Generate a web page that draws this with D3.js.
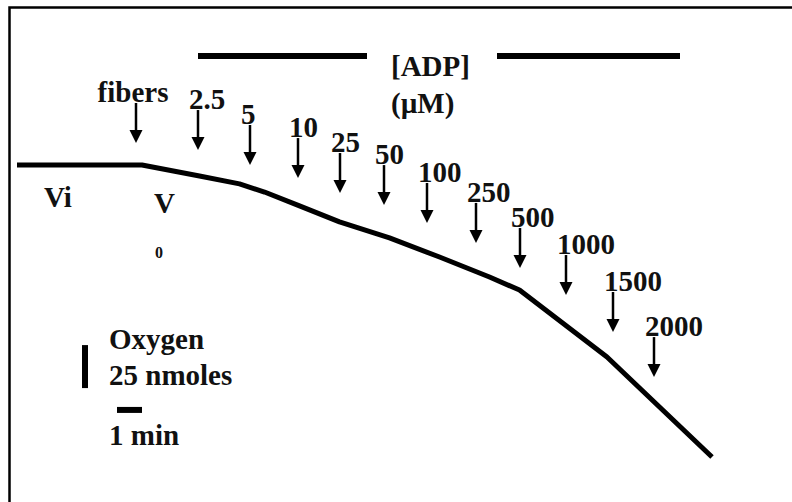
<!DOCTYPE html>
<html>
  <head>
    <meta charset="utf-8">
    <title>Oxygen consumption trace, ADP titration</title>
    <script src="https://d3js.org/d3.v7.min.js"></script>
  </head>
  <body style="margin:0;background:#fff">
<style>
  svg text {
    font-family: "Liberation Serif", "DejaVu Serif", "Times New Roman", Times, serif;
    font-weight: bold;
    fill: #111;
  }
  .trace {
    fill: none;
    stroke: #000;
    stroke-width: 5;
    stroke-linejoin: round;
  }
</style>
<script>

  // oxygen trace: time (min) and oxygen left in chamber (nmoles)
  var traceTime   = [0, 5, 7.3, 8.9, 9.9, 11.3, 12.9, 14.9, 16.9, 18.9, 20.1, 23.6, 27.8];
  var traceOxygen = [250, 250, 243.6, 239, 234.3, 226.2, 216.9, 207.6, 196.5, 184.9, 177.3, 138.4, 80.2];

  // additions: fibers then ADP steps (uM)
  var addLabels = ["fibers", "2.5", "5", "10", "25", "50", "100", "250", "500", "1000", "1500", "2000"];
  var addTime   = [4.76, 7.24, 9.32, 11.24, 12.92, 14.68, 16.4, 18.36, 20.12, 21.96, 23.84, 25.48];
  var addLevel  = [262.8, 258.7, 250, 242.4, 233.7, 226.7, 216.3, 204.7, 190.1, 174.4, 152.9, 126.7];

  // ADP bracket (min) drawn above the trace
  var adpBars = [[7.24, 14], [19.2, 26.52]];
  var adpLevel = 313.4;

  var w = 792,
      h = 502;

  var svg = d3.select("body").append("svg")
    .attr("width", w)
    .attr("height", h)
    .attr("font-family", "'Liberation Serif', 'DejaVu Serif', serif")
    .attr("font-weight", "bold");

  // 25 px per minute, 1.72 px per nmole
  var x = d3.scaleLinear().domain([0, 31]).range([17, 792]);
  var y = d3.scaleLinear().domain([250, 0]).range([165, 595]);

  // frame (top and left edges only visible)
  svg.append("path")
    .attr("d", "M9.5,502V7.5H792")
    .attr("fill", "none")
    .attr("stroke", "#000")
    .attr("stroke-width", 2.5);

  // trace
  var line = d3.line()
    .x(function(d) { return x(d[0]); })
    .y(function(d) { return y(d[1]); });

  svg.append("path")
    .attr("class", "trace")
    .attr("d", line(d3.zip(traceTime, traceOxygen)));

  // ADP bracket bars
  svg.selectAll("line.adp")
    .data(adpBars)
    .enter()
    .append("line")
    .attr("class", "adp")
    .attr("x1", function(d) { return x(d[0]); })
    .attr("x2", function(d) { return x(d[1]); })
    .attr("y1", y(adpLevel))
    .attr("y2", y(adpLevel))
    .attr("stroke", "#000")
    .attr("stroke-width", 6);

  svg.append("text").attr("x", 391).attr("y", 76).attr("font-size", 29).text("[ADP]");
  svg.append("text").attr("x", 391).attr("y", 113).attr("font-size", 29).text("(\u00b5M)");

  // addition arrows
  var adds = addLabels.map(function(l, i) {
    return {label: l, t: addTime[i], o: addLevel[i]};
  });

  var arrow = svg.selectAll("g.add")
    .data(adds)
    .enter()
    .append("g")
    .attr("class", "add")
    .attr("transform", function(d) { return "translate(" + x(d.t) + "," + y(d.o) + ")"; });

  arrow.append("line")
    .attr("x1", 0).attr("x2", 0)
    .attr("y1", -40).attr("y2", -10)
    .attr("stroke", "#000")
    .attr("stroke-width", 2.5);

  arrow.append("path")
    .attr("d", "M-6.5,-13L6.5,-13L0,0Z")
    .attr("fill", "#000");

  arrow.append("text")
    .attr("font-size", 29)
    .attr("x", function(d, i) { return i === 0 ? -3 : -9; })
    .attr("y", -41)
    .attr("text-anchor", function(d, i) { return i === 0 ? "middle" : "start"; })
    .text(function(d) { return d.label; });

  // rate labels
  svg.append("text").attr("x", 44).attr("y", 207).attr("font-size", 29).text("Vi");
  svg.append("text").attr("x", 154).attr("y", 213).attr("font-size", 29).text("V");
  svg.append("text").attr("x", 159).attr("y", 258).attr("font-size", 16)
    .attr("text-anchor", "middle").text("0");

  // scale bars
  svg.append("line")
    .attr("x1", x(2.72)).attr("x2", x(2.72))
    .attr("y1", y(145.3)).attr("y2", y(120.3))
    .attr("stroke", "#000").attr("stroke-width", 6);

  svg.append("line")
    .attr("x1", x(4)).attr("x2", x(5))
    .attr("y1", y(107.6)).attr("y2", y(107.6))
    .attr("stroke", "#000").attr("stroke-width", 6);

  svg.append("text").attr("x", 109).attr("y", 349).attr("font-size", 29).text("Oxygen");
  svg.append("text").attr("x", 109).attr("y", 385).attr("font-size", 29).text("25 nmoles");
  svg.append("text").attr("x", 109).attr("y", 445).attr("font-size", 29).text("1 min");

</script>
  </body>
</html>
